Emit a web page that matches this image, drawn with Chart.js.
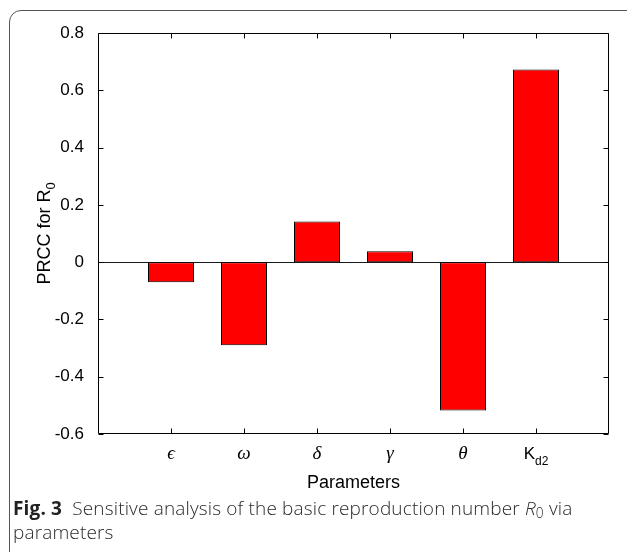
<!DOCTYPE html>
<html>
<head>
<meta charset="utf-8">
<script src="https://cdn.jsdelivr.net/npm/chart.js@4/dist/chart.umd.min.js"></script>
<style>
  html, body { margin: 0; padding: 0; background: #fff; }
  body { width: 627px; height: 552px; position: relative; overflow: hidden; }
  #frame {
    position: absolute; left: 9px; top: 10px; width: 700px; height: 600px;
    border: 1px solid #555; border-top-left-radius: 12px; box-sizing: border-box;
  }
  #wrap { position: absolute; left: 0; top: 0; width: 627px; height: 500px; }
  #cap {
    position: absolute; left: 13px; top: 496px; width: 610px;
    font-family: "Open Sans", sans-serif; font-size: 19px; font-weight: 300; line-height: 24px;
    color: #2a2a2a; letter-spacing: 0.15px;
  }
  #cap b { font-weight: 700; color: #222; }
  #cap .sub { font-size: 0.72em; line-height: 0; position: relative; top: 0.25em; }
</style>
</head>
<body>
<div id="frame"></div>
<div id="wrap"><canvas id="myChart" width="627" height="500"></canvas></div>
<div id="cap"><b>Fig. 3</b>&nbsp; Sensitive analysis of the basic reproduction number <i>R</i><span class="sub">0</span> via<br>parameters</div>
<script>
'use strict';
// parameters (x positions 1..6 on a 0..7 axis like the matlab plot)
let paramNames = ['\u03F5', '\u03C9', '\u03B4', '\u03B3', '\u03B8', 'K'];
let paramSubs = ['', '', '', '', '', 'd2'];
let paramPos = [1, 2, 3, 4, 5, 6];
let prccValues = [-0.07, -0.29, 0.142, 0.038, -0.518, 0.673];
let yTicks = [-0.6, -0.4, -0.2, 0, 0.2, 0.4, 0.6, 0.8];

let barData = [];
for (let i = 0; i < paramPos.length; i++) {
  barData.push({x: paramPos[i], y: prccValues[i]});
}

// box, inward ticks, zero line and the text matlab puts round the axes
let axesPlugin = {
  id: 'axesPlugin',
  beforeDatasetsDraw(chart) {
    let ctx = chart.ctx;
    let a = chart.chartArea;
    let y = chart.scales.y;
    let y0 = Math.round(y.getPixelForValue(0)) + 0.5;
    ctx.save();
    ctx.strokeStyle = '#1a1a1a';
    ctx.lineWidth = 1;
    ctx.beginPath();
    ctx.moveTo(a.left, y0);
    ctx.lineTo(a.right, y0);
    ctx.stroke();
    ctx.restore();
  },
  afterDraw(chart) {
    let ctx = chart.ctx;
    let a = chart.chartArea;
    let x = chart.scales.x;
    let y = chart.scales.y;
    let L = Math.round(a.left) + 0.5, R = Math.round(a.right) - 0.5;
    let T = Math.round(a.top) + 0.5, B = Math.round(a.bottom) - 0.5;
    ctx.save();
    ctx.strokeStyle = '#000';
    ctx.lineWidth = 1;
    ctx.beginPath();
    ctx.rect(L, T, R - L, B - T);
    for (let i = 0; i < yTicks.length; i++) {
      let py = Math.round(y.getPixelForValue(yTicks[i])) + 0.5;
      ctx.moveTo(L, py); ctx.lineTo(L + 5, py);
      ctx.moveTo(R, py); ctx.lineTo(R - 5, py);
    }
    for (let i = 0; i < paramPos.length; i++) {
      let px = Math.round(x.getPixelForValue(paramPos[i])) + 0.5;
      ctx.moveTo(px, B); ctx.lineTo(px, B - 5);
      ctx.moveTo(px, T); ctx.lineTo(px, T + 5);
    }
    ctx.stroke();

    // x labels
    ctx.fillStyle = '#000';
    ctx.textBaseline = 'alphabetic';
    for (let i = 0; i < paramNames.length; i++) {
      let px = x.getPixelForValue(paramPos[i]);
      if (paramSubs[i]) {
        ctx.font = '17px "Liberation Sans"';
        let w1 = ctx.measureText(paramNames[i]).width;
        ctx.font = '12px "Liberation Sans"';
        let w2 = ctx.measureText(paramSubs[i]).width;
        let sx = px - (w1 + w2) / 2;
        ctx.textAlign = 'left';
        ctx.font = '17px "Liberation Sans"';
        ctx.fillText(paramNames[i], sx, a.bottom + 25);
        ctx.font = '12px "Liberation Sans"';
        ctx.fillText(paramSubs[i], sx + w1, a.bottom + 31);
      } else {
        ctx.textAlign = 'center';
        ctx.font = 'italic 19px "Liberation Serif"';
        ctx.fillText(paramNames[i], px, a.bottom + 25);
      }
    }

    // axis titles
    ctx.textAlign = 'center';
    ctx.font = '18px "Liberation Sans"';
    ctx.fillText('Parameters', (a.left + a.right) / 2, a.bottom + 54);

    ctx.translate(50, (a.top + a.bottom) / 2);
    ctx.rotate(-Math.PI / 2);
    ctx.font = '18px "Liberation Sans"';
    let t1 = 'PRCC for R';
    let w1 = ctx.measureText(t1).width;
    ctx.font = '13px "Liberation Sans"';
    let w2 = ctx.measureText('0').width;
    ctx.textAlign = 'left';
    ctx.font = '18px "Liberation Sans"';
    ctx.fillText(t1, -(w1 + w2) / 2, 0);
    ctx.font = '13px "Liberation Sans"';
    ctx.fillText('0', -(w1 + w2) / 2 + w1, 5);
    ctx.restore();
  }
};

let ctx = document.getElementById('myChart').getContext('2d');
let myChart = new Chart(ctx, {
  type: 'bar',
  data: {
    datasets: [{
      label: 'PRCC',
      data: barData,
      backgroundColor: '#ff0000',
      borderColor: '#000',
      borderWidth: 1,
      borderSkipped: false,
      barPercentage: 0.63,
      categoryPercentage: 1
    }]
  },
  options: {
    responsive: false,
    animation: false,
    layout: { padding: { left: 0, top: 33, right: 18, bottom: 0 } },
    plugins: { legend: { display: false }, tooltip: { enabled: false } },
    scales: {
      x: {
        type: 'linear',
        min: 0,
        max: 7,
        offset: false,
        grid: { display: false, offset: false },
        border: { display: false },
        ticks: { display: false },
        afterFit(scale) { scale.height = 66; }
      },
      y: {
        min: -0.6,
        max: 0.8,
        grid: { display: false },
        border: { display: false },
        ticks: {
          stepSize: 0.2,
          padding: 6,
          color: '#000',
          font: { family: 'Liberation Sans', size: 17 },
          callback: function (v) { return String(Math.round(v * 10) / 10); }
        },
        afterFit(scale) { scale.width = 98; }
      }
    }
  },
  plugins: [axesPlugin]
});
</script>
</body>
</html>
